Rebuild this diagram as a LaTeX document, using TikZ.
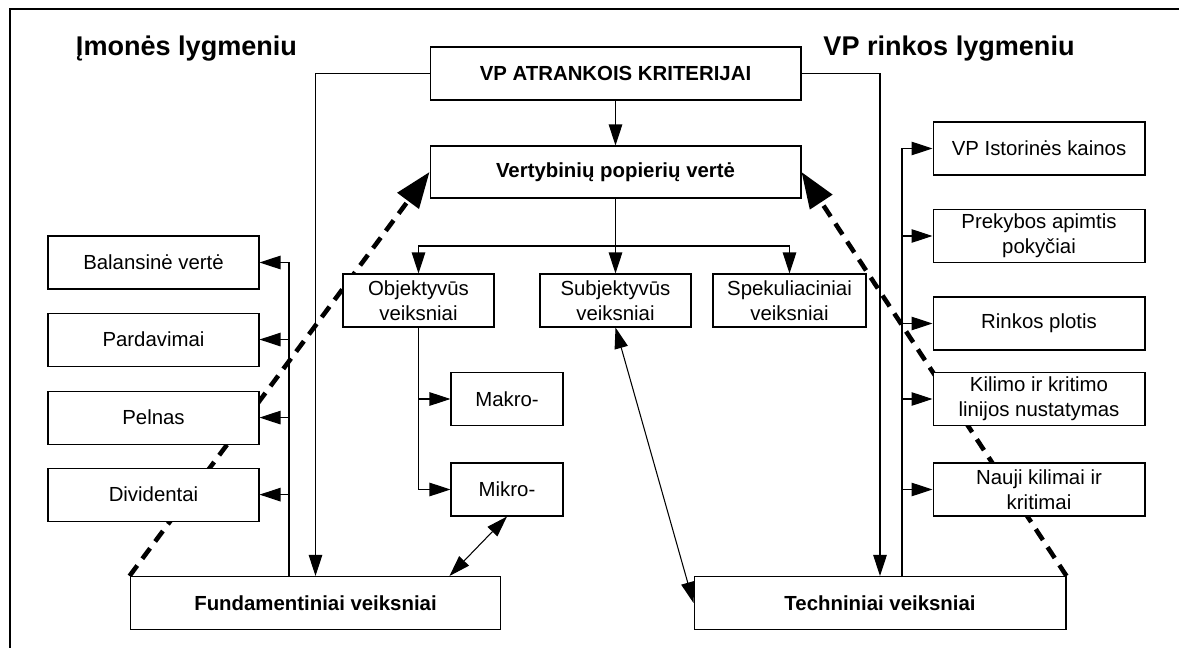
\documentclass[tikz,border=0pt]{standalone}
\usepackage{fontspec}
\setmainfont{Liberation Sans}
\usetikzlibrary{positioning,arrows.meta,calc,backgrounds}

\begin{document}
\begin{tikzpicture}[x=0.02cm, y=-0.02cm,
			box/.style={rectangle, draw, fill=white, line width=0.6pt, minimum height=1.06cm, inner sep=1pt, align=center, font=\fontsize{11.6}{14}\selectfont},
			boldbox/.style={box, font=\fontsize{11.6}{14}\selectfont\bfseries},
			heading/.style={font=\fontsize{15.4}{18}\selectfont\bfseries, anchor=base, inner sep=0},
			conn/.style={line width=0.6pt, -{Triangle[length=0.42cm,width=0.27cm]}},
			twoway/.style={line width=0.6pt, {Triangle[length=0.42cm,width=0.27cm]}-{Triangle[length=0.42cm,width=0.27cm]}},
			bigdash/.style={line width=2.6pt, dash pattern=on 0.26cm off 0.17cm, -{Triangle[length=0.72cm,width=0.52cm]}},
		]

		\useasboundingbox (0,0) rectangle (1179,648);
		\draw[line width=0.6pt] (1179,9) -- (10,9) -- (10,648);

		\node[heading] (lefthead)  at (186.5,56)  {Įmonės lygmeniu};
		\node[heading] (righthead) at (949,56)    {VP rinkos lygmeniu};

		\node[boldbox, minimum width=7.42cm] (krit) at (615.5,73.5) {VP ATRANKOIS KRITERIJAI};
		\node[boldbox, minimum width=7.42cm, minimum height=1.04cm] (vert) at (615.5,172) {Vertybinių popierių vertė};

		\node[box, minimum width=3.02cm] (obj)  at (418.5,300.5) {Objektyvūs\\veiksniai};
		\node[box, minimum width=3.02cm] (subj) at (615.5,300.5) {Subjektyvūs\\veiksniai};
		\node[box, minimum width=3.06cm] (spek) at (789.5,300.5) {Spekuliaciniai\\veiksniai};
		\node[box, minimum width=2.24cm] (makro) at (507,399)   {Makro-};
		\node[box, minimum width=2.24cm] (mikro) at (507,489.5) {Mikro-};

		\node[box, minimum width=4.22cm] (bal)  at (153.5,262.5)          {Balansinė vertė};
		\node[box, minimum width=4.22cm] (pard) [below=0.46cm of bal]    {Pardavimai};
		\node[box, minimum width=4.22cm] (peln) [below=0.48cm of pard]   {Pelnas};
		\node[box, minimum width=4.22cm] (div)  [below=0.46cm of peln]   {Dividentai};

		\node[box, minimum width=4.24cm] (ist)  at (1039,148.5) {VP Istorinės kainos};
		\node[box, minimum width=4.24cm] (prek) at (1039,236)   {Prekybos apimtis\\pokyčiai};
		\node[box, minimum width=4.24cm] (plot) at (1039,323.5) {Rinkos plotis};
		\node[box, minimum width=4.24cm] (kil)  at (1039,399)   {Kilimo ir kritimo\\linijos nustatymas};
		\node[box, minimum width=4.24cm] (nauj) at (1039,489.5) {Nauji kilimai ir\\kritimai};

		\node[boldbox, minimum width=7.42cm] (fund) at (315.5,603) {Fundamentiniai veiksniai};
		\node[boldbox, minimum width=7.44cm] (tech) at (880,603)   {Techniniai veiksniai};

		\coordinate (split) at (615.5,246);
		\coordinate (lbus)  at (289,577);
		\coordinate (rbus)  at (902,577);

		\draw[conn] (krit) -- (vert);
		\draw[line width=0.6pt] (vert) -- (split);
		\draw[conn] (split) -- (subj);
		\draw[conn] (split) -| (obj);
		\draw[conn] (split) -| (spek);

		\draw[conn] (krit) -| (fund);
		\draw[conn] (krit) -| (tech);

		\draw[conn] (obj) |- (mikro);
		\draw[conn] (obj.south) |- (makro);

		\draw[conn] (lbus) |- (bal);
		\foreach \n in {pard,peln,div}
			\draw[conn] (lbus |- \n.east) -- (\n);

		\draw[conn] (rbus) |- (ist);
		\foreach \n in {prek,plot,kil,nauj}
			\draw[conn] (rbus |- \n.west) -- (\n);

		\draw[twoway] (mikro.south) -- ($(fund.north east)+(-52,0)$);
		\draw[twoway] (subj.south) -- (tech.west);

		% dashed links run under the boxes
		\begin{pgfonlayer}{background}
			\draw[bigdash] (fund.north west) -- (vert.west);
			\draw[bigdash] (tech.north east) -- (vert.east);
		\end{pgfonlayer}

		\end{tikzpicture}
\end{document}
